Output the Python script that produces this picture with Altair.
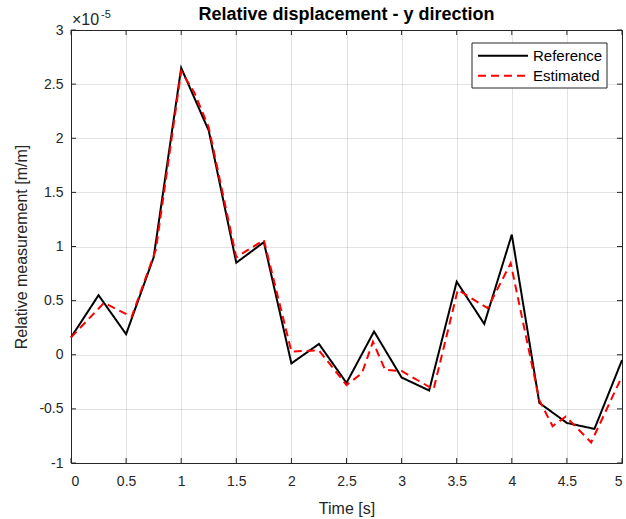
import altair as alt
import pandas as pd

# Reference series (x1e-5 m/m), sampled every 0.25 s
ref_t = [0, 0.25, 0.5, 0.75, 1.0, 1.25, 1.5, 1.75, 2.0, 2.25, 2.5, 2.75, 3.0,
         3.25, 3.5, 3.75, 4.0, 4.25, 4.5, 4.75, 5.0]
ref_v = [0.16, 0.55, 0.19, 0.90, 2.65, 2.07, 0.85, 1.04, -0.08, 0.10, -0.26,
         0.215, -0.21, -0.33, 0.675, 0.285, 1.11, -0.445, -0.63, -0.685, -0.05]

# Estimated series (x1e-5 m/m)
est_t = [0, 0.3, 0.55, 0.77, 1.0, 1.12, 1.25, 1.5, 1.75, 2.0, 2.25, 2.5, 2.64,
         2.74, 2.85, 3.0, 3.29, 3.51, 3.78, 3.99, 4.25, 4.37, 4.49, 4.72, 5.0]
est_v = [0.16, 0.48, 0.35, 0.97, 2.62, 2.42, 2.10, 0.90, 1.06, 0.03, 0.04,
         -0.28, -0.17, 0.12, -0.14, -0.15, -0.32, 0.60, 0.43, 0.845, -0.42,
         -0.66, -0.57, -0.81, -0.20]

series_names = ["Reference", "Estimated"]
series_colors = ["#000000", "#ff0000"]
series_dash = [[1, 0], [8, 5]]
x_ticks = [0, 0.5, 1, 1.5, 2, 2.5, 3, 3.5, 4, 4.5, 5]
y_ticks = [-1, -0.5, 0, 0.5, 1, 1.5, 2, 2.5, 3]
title_text = "Relative displacement - y direction"
x_title = "Time [s]"
y_title = "Relative measurement [m/m]"

df = pd.concat([
    pd.DataFrame({"t": ref_t, "v": ref_v, "series": series_names[0], "order": range(len(ref_t))}),
    pd.DataFrame({"t": est_t, "v": est_v, "series": series_names[1], "order": range(len(est_t))}),
])

font = "Liberation Sans"
ink = "#262626"
W, H = 551, 433

xs = alt.Scale(domain=[0, 5], nice=False)
ys = alt.Scale(domain=[-1, 3], nice=False)

lines = alt.Chart(df).mark_line(strokeWidth=2).encode(
    x=alt.X("t:Q", scale=xs,
            axis=alt.Axis(values=x_ticks, labelExpr="toString(datum.value)",
                          title=x_title, titlePadding=12, labelPadding=11)),
    y=alt.Y("v:Q", scale=ys,
            axis=alt.Axis(values=y_ticks, labelExpr="toString(datum.value)",
                          title=y_title, titlePadding=9, labelPadding=8)),
    color=alt.Color("series:N", scale=alt.Scale(domain=series_names, range=series_colors),
                    legend=None),
    strokeDash=alt.StrokeDash("series:N", scale=alt.Scale(domain=series_names, range=series_dash),
                              legend=None),
    order="order:Q",
)

# inward ticks on all four sides of the box
xt_df = pd.DataFrame({"t": x_ticks})
yt_df = pd.DataFrame({"v": y_ticks})
tick_layers = [
    alt.Chart(xt_df).mark_rule(color=ink, strokeWidth=1).encode(
        x=alt.X("t:Q", scale=xs), y=alt.value(H), y2=alt.value(H - 5)),
    alt.Chart(xt_df).mark_rule(color=ink, strokeWidth=1).encode(
        x=alt.X("t:Q", scale=xs), y=alt.value(0), y2=alt.value(5)),
    alt.Chart(yt_df).mark_rule(color=ink, strokeWidth=1).encode(
        y=alt.Y("v:Q", scale=ys), x=alt.value(0), x2=alt.value(5)),
    alt.Chart(yt_df).mark_rule(color=ink, strokeWidth=1).encode(
        y=alt.Y("v:Q", scale=ys), x=alt.value(W), x2=alt.value(W - 5)),
]

one = pd.DataFrame({"a": [1]})

def txt(s, x, y, size, weight="normal", align="left", color=ink):
    return alt.Chart(one).mark_text(font=font, fontSize=size, fontWeight=weight, color=color,
                                    align=align, baseline="alphabetic").encode(
        x=alt.value(x), y=alt.value(y), text=alt.value(s))

title = txt(title_text, W / 2, -10, 18, weight="bold", align="center", color="#000000")
times10 = txt("×10", 1, -5, 16)
sup = txt("-5", 30, -12, 11)

# legend (box, line samples, labels)
leg_box = alt.Chart(one).mark_rect(fill="#ffffff", stroke=ink, strokeWidth=1).encode(
    x=alt.value(401), x2=alt.value(536), y=alt.value(13), y2=alt.value(58))
leg_items = [leg_box]
for i, name in enumerate(series_names):
    yy = 25.7 + 20 * i
    leg_items.append(alt.Chart(one).mark_rule(color=series_colors[i], strokeWidth=2,
                                              strokeDash=series_dash[i]).encode(
        x=alt.value(407), x2=alt.value(457), y=alt.value(yy)))
    leg_items.append(alt.Chart(one).mark_text(font=font, fontSize=15, color="#000000",
                                              align="left", baseline="middle").encode(
        x=alt.value(462), y=alt.value(yy), text=alt.value(name)))

chart = alt.layer(lines, *tick_layers, title, times10, sup, *leg_items).properties(
    width=W, height=H,
    autosize=alt.AutoSizeParams(type="none"),
    padding={"left": 71, "top": 30, "right": 4, "bottom": 56},
).configure_view(stroke=ink, strokeWidth=1).configure_axis(
    labelFont=font, labelFontSize=14, labelColor=ink,
    titleFont=font, titleFontSize=16, titleColor=ink, titleFontWeight="normal",
    gridColor=ink, gridOpacity=0.13, ticks=False, tickSize=0, domain=False,
)

chart.save("out.html", embed_options={"renderer": "svg", "actions": False})
